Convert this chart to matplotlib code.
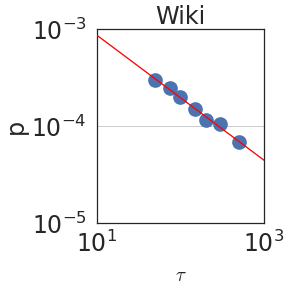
import numpy as np
import matplotlib
matplotlib.use("Agg")
import matplotlib.pyplot as plt

# data
tau = [50, 75, 100, 150, 200, 300, 500]
p = [3.0e-4, 2.45e-4, 1.97e-4, 1.49e-4, 1.15e-4, 1.05e-4, 6.8e-5]
title = "Wiki"

# power-law fit in log space
slope, icpt = np.polyfit(np.log10(tau), np.log10(p), 1)
xfit = np.array([10, 1000])
yfit = 10 ** icpt * xfit ** slope

fig = plt.figure(figsize=(4, 4), dpi=72)
ax = fig.add_axes([0.336, 0.225, 0.581, 0.675])
ax.scatter(tau, p, s=215, color="#4c72b0", zorder=3, linewidths=0)
ax.plot(xfit, yfit, color="red", lw=1.3, zorder=4)

ax.set_xscale("log")
ax.set_yscale("log")
ax.set_xlim(10, 1000)
ax.set_ylim(1e-5, 1e-3)
ax.set_xticks([10, 1000])
ax.set_yticks([1e-5, 1e-4, 1e-3])
ax.minorticks_off()
ax.yaxis.grid(True, color="#cccccc", lw=1)
ax.set_axisbelow(True)
ax.tick_params(labelsize=23.5, colors="#262626", length=0)
ax.tick_params(axis="y", pad=10)
ax.tick_params(axis="x", pad=7)
for s in ax.spines.values():
    s.set_color("#262626")
    s.set_linewidth(1.25)

ax.set_title(title, fontsize=24, color="#262626", pad=3)
ax.set_ylabel("p", fontsize=24, color="#262626", labelpad=3)
ax.set_xlabel(r"$\tau$", fontsize=19, color="#262626", labelpad=9,
              math_fontfamily="cm")

fig.savefig("out.png", dpi=72)
